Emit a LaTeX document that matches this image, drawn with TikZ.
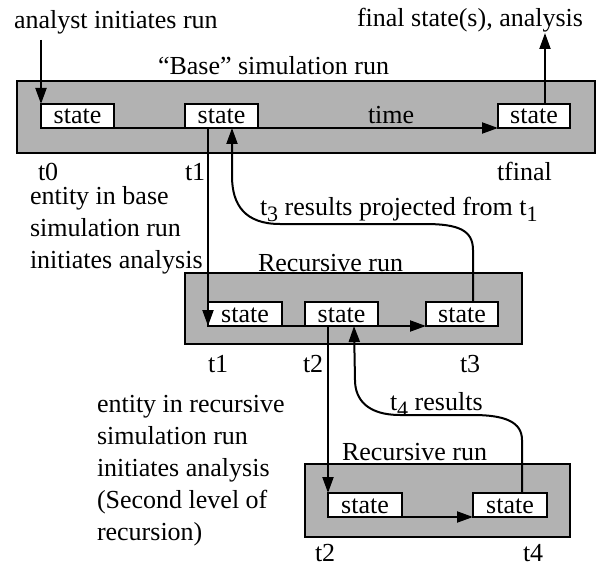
\documentclass[tikz,border=0pt]{standalone}
\usepackage{fontspec}
\setmainfont{Liberation Serif}
\usetikzlibrary{arrows.meta}
\begin{document}
\begin{tikzpicture}[x=1pt,y=-1pt,
  every node/.style={inner sep=0pt, outer sep=0pt},
  lbl/.style={anchor=base west, font=\fontsize{26}{32}\selectfont},
  blk/.style={anchor=base west, align=left, font=\fontsize{26}{32}\selectfont},
  runbox/.style={draw, line width=2pt, fill=black!30},
  statebox/.style={draw, line width=2pt, fill=white, minimum height=24pt,
    text height=18pt, text depth=2pt, font=\fontsize{26}{32}\selectfont},
  conn/.style={line width=2pt},
  arr/.style={line width=2pt, -{Triangle[length=16pt,width=11pt]}}]
\useasboundingbox (0,0) rectangle (597,567);
\newcommand{\sbs}[1]{\raisebox{-6pt}{\fontsize{22}{22}\selectfont #1}}
% run boxes
\node[runbox, minimum width=578pt, minimum height=72pt] (base) at (306,117) {};
\node[runbox, minimum width=337pt, minimum height=71pt] (rec1) at (353.5,308.5) {};
\node[runbox, minimum width=265pt, minimum height=73pt] (rec2) at (437.5,500.5) {};
% state boxes
\node[statebox, minimum width=73pt] (b0) at (77.5,116) {state};
\node[statebox, minimum width=73pt] (b1) at (221.5,116) {state};
\node[statebox, minimum width=72pt] (b2) at (534,116) {state};
\node[statebox, minimum width=74pt] (r1a) at (245,314) {state};
\node[statebox, minimum width=73pt] (r1b) at (341.5,314) {state};
\node[statebox, minimum width=72pt] (r1c) at (462,314) {state};
\node[statebox, minimum width=74pt] (r2a) at (365,505) {state};
\node[statebox, minimum width=74pt] (r2b) at (510,505) {state};
% labels
\node[lbl] (lana) at (14,29) {analyst initiates run};
\node[lbl] (lbase) at (158,75) {“Base” simulation run};
\node[lbl] (lfin) at (357,27) {final state(s), analysis};
\node[lbl] (ltime) at (368,124) {time};
\node[lbl] (lt0) at (38,180) {t0};
\node[lbl] (lt1) at (185,180) {t1};
\node[lbl] (ltf) at (497,180) {tfinal};
\node[blk] (lent1) at (30,268) {entity in base\\simulation run\\initiates analysis};
\node[lbl] (lres3) at (260,215) {t\sbs{3} results projected from t\sbs{1}};
\node[lbl] (lrec1) at (258,271) {Recursive run};
\node[lbl] (lr1t1) at (208,372) {t1};
\node[lbl] (lr1t2) at (303,372) {t2};
\node[lbl] (lr1t3) at (460,372) {t3};
\node[blk] (lent2) at (97,540) {entity in recursive\\simulation run\\initiates analysis\\(Second level of\\recursion)};
\node[lbl] (lres4) at (390,410) {t\sbs{4} results};
\node[lbl] (lrec2) at (342,460) {Recursive run};
\node[lbl] (lr2t2) at (315,561) {t2};
\node[lbl] (lr2t4) at (523,561) {t4};
% coordinates for free ends
\coordinate (astart) at (41,40);
\coordinate (fend) at (545,33);
% connectors
\draw[arr] (astart) -- (b0.north west);
\draw[conn] (b0.south east) -- (b1.south west);
\draw[arr] (b1.south east) -- (b2.south west);
\draw[arr] ([xshift=11pt]b2.north) -- (fend);
\draw[arr] ([xshift=-13.5pt]b1.south) -- (r1a.south west);
\draw[conn] (r1a.south east) -- (r1b.south west);
\draw[arr] (r1b.south east) -- (r1c.south west);
\draw[arr] ([xshift=11pt]r1c.north) -- (473,250)
  .. controls (473,230) and (458,224) .. (425,224) -- (280,224)
  .. controls (245,224) and (232,205) .. (232,176) -- ([xshift=10.5pt]b1.south);
\draw[arr] ([xshift=-13.5pt]r1b.south) -- (r2a.north west);
\draw[arr] (r2a.south east) -- (r2b.south west);
\draw[arr] ([xshift=12pt]r2b.north) -- (522,440)
  .. controls (522,422) and (505,415) .. (473,415) -- (400,415)
  .. controls (368,415) and (355,400) .. (355,380) -- ([xshift=12.5pt]r1b.south);
\end{tikzpicture}
\end{document}
